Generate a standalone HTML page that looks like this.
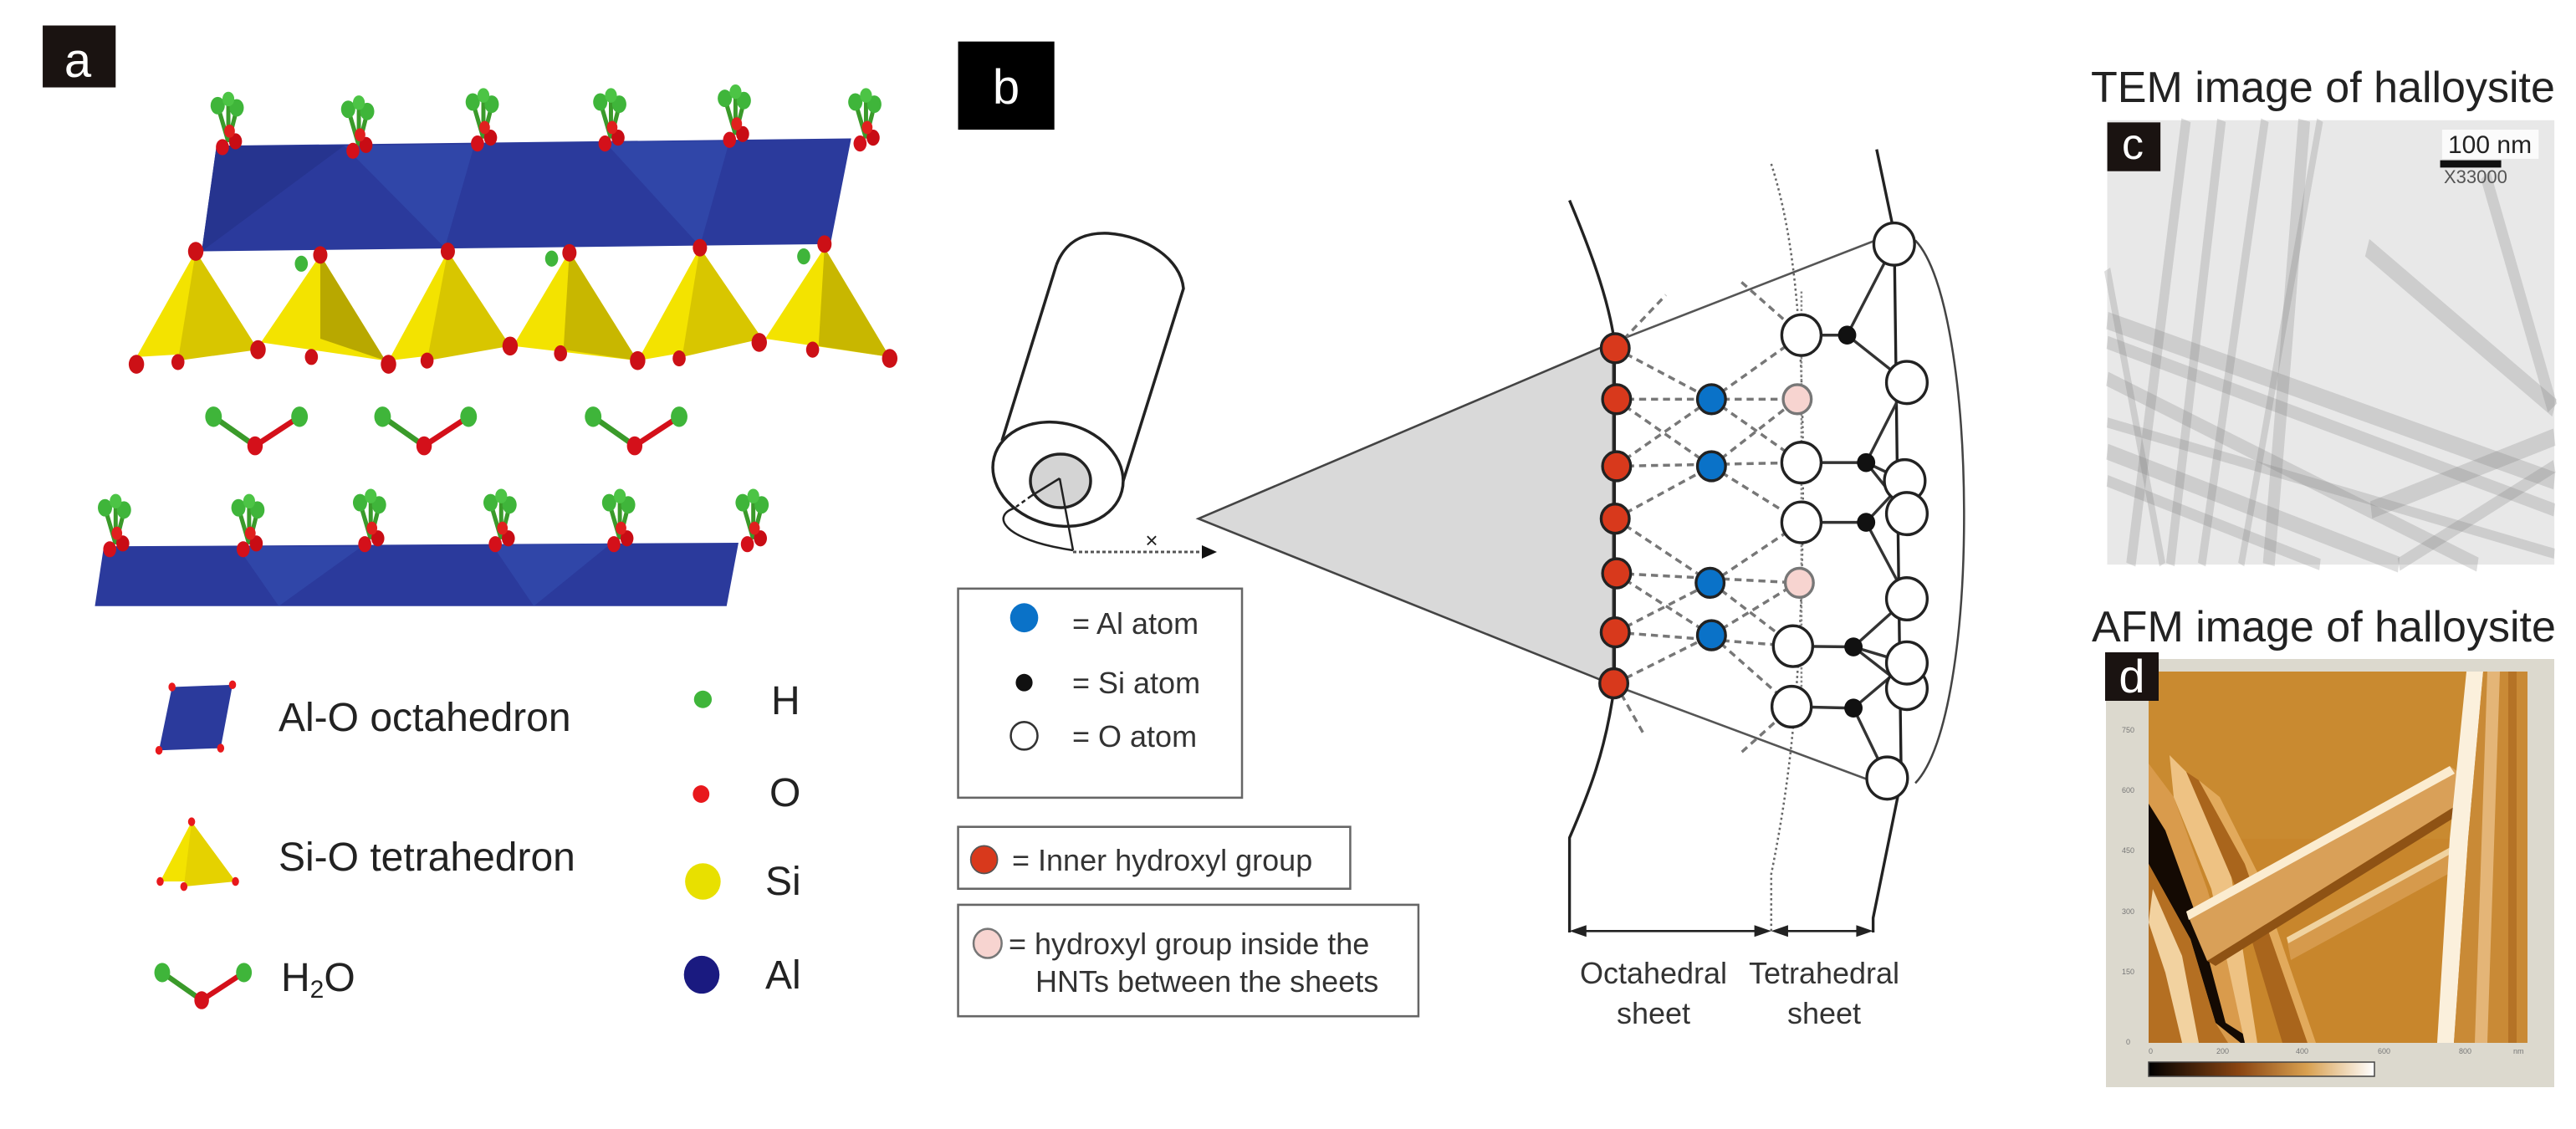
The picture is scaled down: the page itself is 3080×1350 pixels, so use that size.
<!DOCTYPE html>
<html><head><meta charset="utf-8"><style>
html,body{margin:0;padding:0;background:#fff;}
svg{display:block;}
text{font-family:"Liberation Sans",sans-serif;}
</style></head><body>
<svg width="3080" height="1350" viewBox="0 0 3080 1350" xmlns="http://www.w3.org/2000/svg">
<defs>
<g id="cl">
 <line x1="0" y1="-5" x2="-18" y2="-55" stroke="#3a9a2a" stroke-width="7"/>
 <line x1="0" y1="-5" x2="14" y2="-50" stroke="#3a9a2a" stroke-width="7"/>
 <line x1="0" y1="-5" x2="0" y2="-62" stroke="#3a9a2a" stroke-width="7"/>
 <circle cx="-18" cy="-55" r="12" fill="#3fb53a"/>
 <circle cx="14" cy="-52" r="12" fill="#3fb53a"/>
 <circle cx="0" cy="-64" r="10" fill="#4cc445"/>
 <circle cx="-10" cy="2" r="11" fill="#d4101a"/>
 <circle cx="12" cy="-6" r="11" fill="#c80c14"/>
 <circle cx="2" cy="-20" r="9" fill="#e0201e"/>
</g>
<g id="wt">
 <line x1="-70" y1="0" x2="0" y2="40" stroke="#3a9a2a" stroke-width="8"/>
 <line x1="75" y1="0" x2="0" y2="40" stroke="#d4101a" stroke-width="8"/>
 <circle cx="-70" cy="0" r="14" fill="#3fb53a"/>
 <circle cx="75" cy="0" r="14" fill="#3fb53a"/>
 <circle cx="0" cy="40" r="13" fill="#d4101a"/>
</g>
<linearGradient id="cb"><stop offset="0" stop-color="#000"/><stop offset="0.4" stop-color="#8a4512"/><stop offset="0.7" stop-color="#d8a050"/><stop offset="1" stop-color="#fff"/></linearGradient>
</defs>

<!-- PANEL A (zoom1 coords) -->
<g transform="scale(0.7092,0.8711)">
 <rect x="72" y="35" width="123" height="85" fill="#1a1311"/>
 <polygon points="365,200 1435,190 1400,335 340,345" fill="#2b3a9c"/>
 <polygon points="580,200 800,198 750,340" fill="#3046a8"/>
 <polygon points="1020,195 1230,193 1180,338" fill="#3046a8"/>
 <polygon points="365,200 580,200 340,345" fill="#26348f"/>
 <g stroke="none">
 <polygon points="230,490 330,345 435,480" fill="#f3e300"/><polygon points="330,345 435,480 300,495" fill="#d8c600"/>
 <polygon points="440,470 540,350 650,495" fill="#f3e300"/><polygon points="540,350 650,495 540,465" fill="#b8a800"/>
 <polygon points="655,495 755,345 860,475" fill="#f3e300"/><polygon points="755,345 860,475 720,495" fill="#d8c600"/>
 <polygon points="865,475 960,345 1075,495" fill="#f3e300"/><polygon points="960,345 1075,495 950,480" fill="#c8b700"/>
 <polygon points="1075,495 1180,340 1285,465" fill="#f3e300"/><polygon points="1180,340 1285,465 1150,490" fill="#d8c600"/>
 <polygon points="1290,465 1390,340 1500,490" fill="#f3e300"/><polygon points="1390,340 1500,490 1380,475" fill="#c8b700"/>
 </g>
 <g fill="#cc1016">
 <circle cx="230" cy="500" r="13"/><circle cx="300" cy="497" r="11"/><circle cx="435" cy="480" r="13"/><circle cx="525" cy="490" r="11"/>
 <circle cx="655" cy="500" r="13"/><circle cx="720" cy="495" r="11"/><circle cx="860" cy="475" r="13"/><circle cx="945" cy="485" r="11"/>
 <circle cx="1075" cy="495" r="13"/><circle cx="1145" cy="492" r="11"/><circle cx="1280" cy="470" r="13"/><circle cx="1370" cy="480" r="11"/><circle cx="1500" cy="492" r="13"/>
 <circle cx="330" cy="345" r="13"/><circle cx="540" cy="350" r="12"/><circle cx="755" cy="345" r="12"/><circle cx="960" cy="347" r="12"/><circle cx="1180" cy="340" r="12"/><circle cx="1390" cy="335" r="12"/>
 </g>
 <g fill="#3fb53a"><circle cx="508" cy="362" r="11"/><circle cx="930" cy="355" r="11"/><circle cx="1355" cy="352" r="11"/></g>
 <use href="#cl" x="385" y="200"/><use href="#cl" x="605" y="205"/><use href="#cl" x="815" y="195"/>
 <use href="#cl" x="1030" y="195"/><use href="#cl" x="1240" y="190"/><use href="#cl" x="1460" y="195"/>
 <use href="#wt" x="430" y="572"/><use href="#wt" x="715" y="572"/><use href="#wt" x="1070" y="572"/>
 <polygon points="175,750 1245,745 1225,832 160,832" fill="#2b3a9c"/>
 <polygon points="400,750 610,750 470,832" fill="#3046a8"/>
 <polygon points="830,748 1030,746 900,832" fill="#3046a8"/>
 <use href="#cl" x="195" y="752"/><use href="#cl" x="420" y="752"/><use href="#cl" x="625" y="745"/>
 <use href="#cl" x="845" y="745"/><use href="#cl" x="1045" y="745"/><use href="#cl" x="1270" y="745"/>
 <polygon points="290,943 392,940 372,1027 268,1030" fill="#2b3a9c"/>
 <g fill="#e8181c"><circle cx="290" cy="943" r="6"/><circle cx="392" cy="940" r="6"/><circle cx="372" cy="1027" r="6"/><circle cx="268" cy="1030" r="6"/></g>
 <polygon points="323,1128 270,1210 397,1210" fill="#f3e300"/>
 <polygon points="323,1128 310,1217 397,1210" fill="#e5d200"/>
 <g fill="#e8181c"><circle cx="323" cy="1128" r="6"/><circle cx="270" cy="1210" r="6"/><circle cx="310" cy="1217" r="6"/><circle cx="397" cy="1210" r="6"/></g>
 <use href="#wt" transform="translate(340,1335) scale(0.95)"/>
 <ellipse cx="1185" cy="960" rx="15" ry="12" fill="#3fb53a"/>
 <ellipse cx="1182" cy="1090" rx="14" ry="12" fill="#e8181c"/>
 <ellipse cx="1185" cy="1210" rx="30" ry="25" fill="#e8e000"/>
 <ellipse cx="1183" cy="1338" rx="30" ry="26" fill="#1a1a80"/>
</g>
<text x="73" y="92" font-size="58" fill="#fff" text-anchor="middle" dx="20">a</text>
<g font-size="48" fill="#222">
 <text x="333" y="874">Al-O octahedron</text>
 <text x="333" y="1041">Si-O tetrahedron</text>
 <text x="336" y="1185">H<tspan font-size="30" dy="8">2</tspan><tspan dy="-8">O</tspan></text>
 <text x="922" y="854">H</text>
 <text x="920" y="964">O</text>
 <text x="915" y="1070">Si</text>
 <text x="915" y="1182">Al</text>
</g>

<!-- cylinder (original coords) -->
<g fill="none" stroke="#222" stroke-width="3.5">
 <path d="M1263,317 C1275,285 1300,278 1325,279 C1370,282 1412,310 1415,345 L1343,575"/>
 <path d="M1263,317 L1198,527"/>
 <ellipse cx="1265" cy="567" rx="79" ry="61" transform="rotate(15 1265 567)" fill="#fff"/>
 <ellipse cx="1268" cy="575" rx="36" ry="32" fill="#d4d4d4"/>
 <path d="M1267,572 L1283,658" stroke-width="2.5"/>
 <path d="M1267,572 L1233,593" stroke-width="2.5"/>
 <path d="M1233,593 L1215,606" stroke-width="2.5" stroke-dasharray="5,4"/>
 <path d="M1215,607 C1185,615 1195,645 1283,658" stroke-width="2.5"/>
 <path d="M1283,660 L1440,660" stroke="#555" stroke-width="3" stroke-dasharray="4,3"/>
 <polygon points="1455,660 1437,652 1437,668" fill="#111" stroke="none"/>
</g>
<text x="1377" y="655" font-size="26" fill="#222" text-anchor="middle">×</text>

<!-- PANEL B (zoom2 coords) -->
<g transform="translate(1080,0) scale(0.8403,0.8711)" fill="none" stroke="#222" stroke-width="4">
 <rect x="78" y="57" width="137" height="121" fill="#000" stroke="none"/>
 <polygon points="420,712 1010,470 1010,940" fill="#d9d9d9" stroke="#444" stroke-width="3"/>
 <path d="M1010,470 L1410,320" stroke="#555" stroke-width="3"/>
 <path d="M1010,940 L1400,1080" stroke="#555" stroke-width="3"/>
 <path d="M1440,330 C1530,420 1535,980 1440,1075" stroke="#444" stroke-width="3"/>
 <path d="M948,275 C985,360 1005,420 1012,470 L1012,940 C1000,1030 975,1090 948,1150 L948,1280" stroke-width="4"/>
 <path d="M1235,225 C1270,330 1282,470 1280,700 C1278,950 1260,1080 1235,1200 L1235,1280" stroke="#666" stroke-width="3" stroke-dasharray="3,4"/>
 <path d="M1385,205 L1410,320 L1420,1070 L1380,1260 L1380,1280" stroke-width="4"/>
 <line x1="960" y1="1278" x2="1222" y2="1278" stroke-width="3"/>
 <line x1="1248" y1="1278" x2="1368" y2="1278" stroke-width="3"/>
 <g fill="#222" stroke="none">
  <polygon points="948,1278 972,1270 972,1286"/><polygon points="1235,1278 1211,1270 1211,1286"/>
  <polygon points="1235,1278 1259,1270 1259,1286"/><polygon points="1380,1278 1356,1270 1356,1286"/>
 </g>
 <g stroke="#777" stroke-width="4" stroke-dasharray="10,7">
  <line x1="1013" y1="548" x2="1272" y2="548"/><line x1="1013" y1="640" x2="1278" y2="635"/>
  <line x1="1013" y1="787" x2="1272" y2="800"/><line x1="1013" y1="868" x2="1268" y2="887"/>
  <line x1="1013" y1="478" x2="1150" y2="548"/><line x1="1013" y1="548" x2="1150" y2="640"/>
  <line x1="1013" y1="640" x2="1150" y2="548"/><line x1="1013" y1="712" x2="1150" y2="640"/>
  <line x1="1013" y1="712" x2="1150" y2="800"/><line x1="1013" y1="787" x2="1150" y2="872"/>
  <line x1="1013" y1="868" x2="1150" y2="800"/><line x1="1013" y1="938" x2="1150" y2="872"/>
  <line x1="1150" y1="548" x2="1278" y2="460"/><line x1="1150" y1="548" x2="1278" y2="635"/>
  <line x1="1150" y1="640" x2="1272" y2="548"/><line x1="1150" y1="640" x2="1278" y2="717"/>
  <line x1="1150" y1="800" x2="1278" y2="717"/><line x1="1150" y1="800" x2="1268" y2="887"/>
  <line x1="1150" y1="872" x2="1272" y2="800"/><line x1="1150" y1="872" x2="1265" y2="970"/>
  <line x1="1013" y1="478" x2="1085" y2="405"/><line x1="1013" y1="938" x2="1055" y2="1010"/>
  <line x1="1278" y1="460" x2="1190" y2="385"/><line x1="1265" y1="970" x2="1190" y2="1035"/>
 </g>
 <line x1="1278" y1="400" x2="1278" y2="1000" stroke="#888" stroke-width="3" stroke-dasharray="3,3"/>
 <g stroke="#333" stroke-width="4">
  <line x1="1278" y1="460" x2="1343" y2="460"/><line x1="1278" y1="635" x2="1370" y2="635"/>
  <line x1="1278" y1="717" x2="1370" y2="717"/><line x1="1268" y1="887" x2="1352" y2="888"/>
  <line x1="1265" y1="970" x2="1352" y2="972"/>
  <line x1="1343" y1="460" x2="1410" y2="335"/><line x1="1343" y1="460" x2="1428" y2="525"/>
  <line x1="1370" y1="635" x2="1428" y2="525"/><line x1="1370" y1="635" x2="1425" y2="660"/><line x1="1370" y1="635" x2="1428" y2="705"/>
  <line x1="1370" y1="717" x2="1425" y2="660"/><line x1="1370" y1="717" x2="1428" y2="822"/>
  <line x1="1352" y1="888" x2="1428" y2="822"/><line x1="1352" y1="888" x2="1428" y2="910"/><line x1="1352" y1="888" x2="1428" y2="945"/>
  <line x1="1352" y1="972" x2="1428" y2="910"/><line x1="1352" y1="972" x2="1400" y2="1068"/>
 </g>
 <g stroke="#222" stroke-width="4">
  <g fill="#d8391c"><circle cx="1013" cy="478" r="20"/><circle cx="1015" cy="548" r="20"/><circle cx="1015" cy="640" r="20"/><circle cx="1013" cy="712" r="20"/><circle cx="1015" cy="787" r="20"/><circle cx="1013" cy="868" r="20"/><circle cx="1011" cy="938" r="20"/></g>
  <g fill="#0a72c8"><circle cx="1150" cy="548" r="20"/><circle cx="1150" cy="640" r="20"/><circle cx="1148" cy="800" r="20"/><circle cx="1150" cy="872" r="20"/></g>
  <g fill="#f7d4d0" stroke="#777"><circle cx="1272" cy="548" r="20"/><circle cx="1275" cy="800" r="20"/></g>
  <g fill="#fff"><circle cx="1278" cy="460" r="28"/><circle cx="1278" cy="635" r="28"/><circle cx="1278" cy="717" r="28"/><circle cx="1266" cy="887" r="28"/><circle cx="1264" cy="970" r="28"/>
   <circle cx="1410" cy="335" r="29"/><circle cx="1428" cy="525" r="29"/><circle cx="1425" cy="660" r="29"/><circle cx="1428" cy="705" r="29"/><circle cx="1428" cy="822" r="29"/><circle cx="1428" cy="945" r="29"/><circle cx="1428" cy="910" r="29"/><circle cx="1400" cy="1068" r="29"/></g>
  <g fill="#111" stroke="none"><circle cx="1343" cy="460" r="13"/><circle cx="1370" cy="635" r="13"/><circle cx="1370" cy="717" r="13"/><circle cx="1352" cy="888" r="13"/><circle cx="1352" cy="972" r="13"/></g>
 </g>
 <rect x="78" y="808" width="404" height="287" stroke="#666" stroke-width="3" fill="#fff"/>
 <rect x="78" y="1135" width="558" height="85" stroke="#666" stroke-width="3" fill="#fff"/>
 <rect x="78" y="1242" width="655" height="153" stroke="#666" stroke-width="3" fill="#fff"/>
 <circle cx="172" cy="848" r="20" fill="#0a72c8" stroke="none"/>
 <circle cx="172" cy="937" r="12" fill="#111" stroke="none"/>
 <circle cx="172" cy="1010" r="19" fill="#fff" stroke="#333" stroke-width="3"/>
 <circle cx="115" cy="1180" r="19" fill="#d8391c" stroke="#555" stroke-width="2"/>
 <circle cx="120" cy="1295" r="20" fill="#f7d4d0" stroke="#777" stroke-width="3"/>
</g>
<text x="1203" y="124" font-size="58" fill="#fff" text-anchor="middle">b</text>
<g font-size="36" fill="#333">
 <text x="1282" y="758">=  Al atom</text>
 <text x="1282" y="829">= Si atom</text>
 <text x="1282" y="893">= O atom</text>
 <text x="1210" y="1041">= Inner hydroxyl group</text>
 <text x="1206" y="1141">= hydroxyl group inside the</text>
 <text x="1238" y="1186">HNTs between the sheets</text>
 <text x="1977" y="1176" text-anchor="middle">Octahedral</text>
 <text x="1977" y="1224" text-anchor="middle">sheet</text>
 <text x="2181" y="1176" text-anchor="middle">Tetrahedral</text>
 <text x="2181" y="1224" text-anchor="middle">sheet</text>
</g>

<!-- PANEL C (zoom3 coords) -->
<g transform="translate(2350,0) scale(0.4710,0.8711)">
 <rect x="360" y="165" width="1135" height="610" fill="#e8e8e8"/>
 <g stroke="#7a7a7a" stroke-opacity="0.25" fill="none">
  <line x1="360" y1="440" x2="1495" y2="660" stroke-width="24"/>
  <line x1="360" y1="470" x2="1495" y2="700" stroke-width="18"/>
  <line x1="360" y1="520" x2="1300" y2="775" stroke-width="20"/>
  <line x1="360" y1="620" x2="1100" y2="775" stroke-width="22"/>
  <line x1="360" y1="660" x2="900" y2="775" stroke-width="16"/>
  <line x1="1020" y1="340" x2="1495" y2="560" stroke-width="26"/>
  <line x1="420" y1="775" x2="560" y2="165" stroke-width="24"/>
  <line x1="520" y1="775" x2="650" y2="165" stroke-width="22"/>
  <line x1="600" y1="775" x2="760" y2="165" stroke-width="20"/>
  <line x1="770" y1="775" x2="860" y2="165" stroke-width="30"/>
  <line x1="700" y1="775" x2="900" y2="165" stroke-width="16"/>
  <line x1="1320" y1="240" x2="1490" y2="560" stroke-width="26"/>
  <line x1="1030" y1="700" x2="1495" y2="600" stroke-width="24"/>
  <line x1="1100" y1="775" x2="1495" y2="640" stroke-width="18"/>
  <line x1="360" y1="370" x2="500" y2="775" stroke-width="16"/>
  <line x1="360" y1="580" x2="1495" y2="760" stroke-width="14"/>
 </g>
 <rect x="360" y="168" width="135" height="67" fill="#1a1311"/>
 <rect x="1210" y="178" width="245" height="40" fill="#fff" fill-opacity="0.8"/>
 <line x1="1205" y1="225" x2="1360" y2="225" stroke="#111" stroke-width="10"/>
</g>

<!-- PANEL D (original coords) -->
<rect x="2518" y="788" width="536" height="512" fill="#dcd9ce"/>
<g transform="translate(2569,803)">
 <rect x="0" y="0" width="453" height="444" fill="#c8862c"/>
 <rect x="0" y="0" width="380" height="200" fill="#c98a30"/>
 <!-- left tubes -->
 <polygon points="0,110 30,150 70,260 100,360 130,444 0,444" fill="#d99b4c"/>
 <polygon points="0,158 20,190 60,300 92,420 130,444 110,444 80,420 50,320 0,230" fill="#140a03"/>
 <polygon points="0,230 50,320 80,420 95,444 0,444" fill="#b46f22"/>
 <polygon points="5,260 40,340 60,444 40,444 20,360 0,300" fill="#f2d2a0"/>
 <polygon points="25,100 45,120 95,220 130,444 115,444 75,260 30,150" fill="#eec283"/>
 <polygon points="45,120 60,130 115,230 190,444 160,444 105,260" fill="#a9651c"/>
 <polygon points="60,130 85,150 130,240 200,444 190,444 115,230" fill="#e2aa5c"/>
 <!-- lower parallel tube -->
 <polygon points="165,318 370,205 380,230 170,345" fill="#d69a4c"/>
 <polygon points="165,318 370,205 372,212 167,325" fill="#f0d3a0"/>
 <!-- diagonal tube -->
 <polygon points="45,287 360,113 400,140 70,346" fill="#d9a058"/>
 <polygon points="45,287 360,113 366,122 48,297" fill="#fbecd0"/>
 <polygon points="70,346 400,140 402,152 80,352" fill="#8e5214"/>
 <!-- right vertical tube -->
 <polygon points="380,0 400,0 382,200 365,444 345,444 360,200" fill="#fbf0dc"/>
 <polygon points="400,0 453,0 453,444 365,444 382,200" fill="#c98a36"/>
 <polygon points="405,0 420,0 405,444 390,444" fill="#e4b577"/>
 <polygon points="430,0 440,0 440,444 430,444" fill="#b57326"/>
</g>
<rect x="2569" y="1270" width="270" height="17" fill="url(#cb)" stroke="#444" stroke-width="1.5"/>
<g font-size="9" fill="#777">
 <text x="2537" y="828">850</text><text x="2537" y="876">750</text><text x="2537" y="948">600</text><text x="2537" y="1020">450</text>
 <text x="2537" y="1093">300</text><text x="2537" y="1165">150</text><text x="2542" y="1249">0</text>
 <text x="2569" y="1260">0</text><text x="2650" y="1260">200</text><text x="2745" y="1260">400</text><text x="2843" y="1260">600</text><text x="2940" y="1260">800</text><text x="3005" y="1260">nm</text>
</g>
<rect x="2517" y="780" width="64" height="58" fill="#1a1311"/>

<text x="2500" y="122" font-size="52" fill="#222">TEM image of halloysite</text>
<text x="2550" y="190" font-size="52" fill="#fff" text-anchor="middle">c</text>
<text x="2927" y="183" font-size="30" fill="#222">100 nm</text>
<text x="2922" y="219" font-size="22" fill="#555">X33000</text>
<text x="2501" y="767" font-size="52" fill="#222">AFM image of halloysite</text>
<text x="2549" y="828" font-size="56" fill="#fff" text-anchor="middle">d</text>
</svg>
</body></html>
